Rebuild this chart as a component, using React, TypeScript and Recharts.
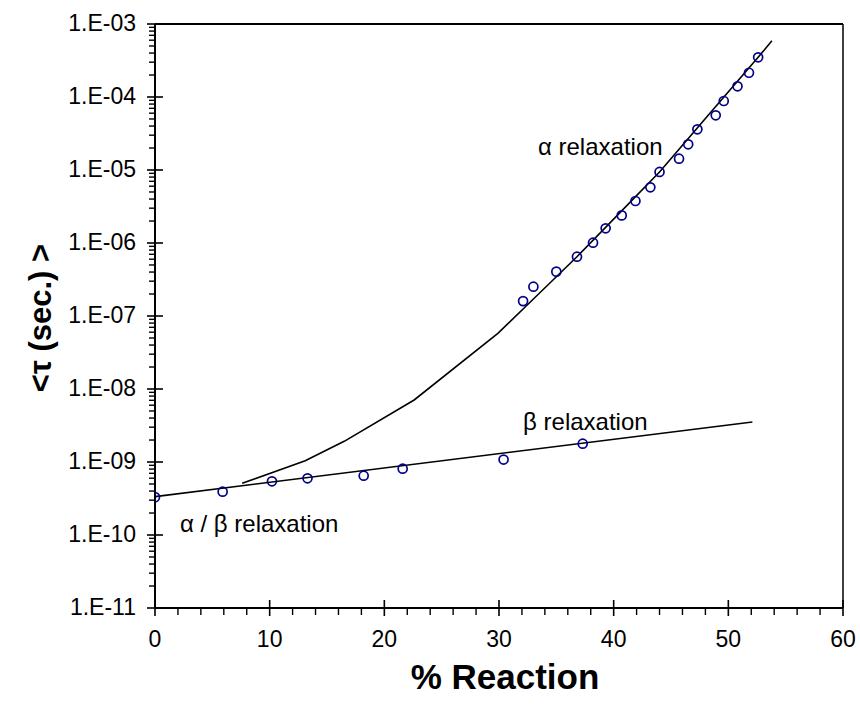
import React from "react";
import {
  ComposedChart,
  XAxis,
  YAxis,
  Line,
  Scatter,
  ReferenceLine,
  ReferenceDot,
} from "recharts";

// ---- data ----
const betaPoints = [
  { x: 0, y: 3.3e-10 },
  { x: 5.9, y: 3.92e-10 },
  { x: 10.2, y: 5.44e-10 },
  { x: 13.3, y: 5.98e-10 },
  { x: 18.2, y: 6.49e-10 },
  { x: 21.6, y: 8.09e-10 },
  { x: 30.4, y: 1.08e-9 },
  { x: 37.3, y: 1.78e-9 },
];

const alphaPoints = [
  { x: 32.1, y: 1.6e-7 },
  { x: 33.0, y: 2.52e-7 },
  { x: 35.0, y: 4.05e-7 },
  { x: 36.8, y: 6.49e-7 },
  { x: 38.2, y: 1.01e-6 },
  { x: 39.3, y: 1.59e-6 },
  { x: 40.7, y: 2.39e-6 },
  { x: 41.9, y: 3.76e-6 },
  { x: 43.2, y: 5.79e-6 },
  { x: 44.0, y: 9.4e-6 },
  { x: 45.7, y: 1.43e-5 },
  { x: 46.5, y: 2.25e-5 },
  { x: 47.3, y: 3.61e-5 },
  { x: 48.9, y: 5.61e-5 },
  { x: 49.6, y: 8.81e-5 },
  { x: 50.8, y: 1.4e-4 },
  { x: 51.8, y: 2.15e-4 },
  { x: 52.6, y: 3.5e-4 },
];

const alphaFit = [
  { x: 7.6, y: 5.1e-10 },
  { x: 13.1, y: 1.04e-9 },
  { x: 16.5, y: 1.92e-9 },
  { x: 22.6, y: 7.07e-9 },
  { x: 29.9, y: 5.79e-8 },
  { x: 33.0, y: 1.71e-7 },
  { x: 36.8, y: 6.49e-7 },
  { x: 40.4, y: 2.47e-6 },
  { x: 44.0, y: 9.4e-6 },
  { x: 48.3, y: 5.74e-5 },
  { x: 52.6, y: 3.5e-4 },
  { x: 53.8, y: 5.9e-4 },
];

const betaFit = [
  { x: 0, y: 3.35e-10 },
  { x: 52.1, y: 3.53e-9 },
];

const annotations = [
  { x: 33.4, y: 2.08e-5, text: "\u03b1 relaxation" },
  { x: 32.1, y: 3.56e-9, text: "\u03b2 relaxation" },
  { x: 2.18, y: 1.45e-10, text: "\u03b1 / \u03b2 relaxation" },
];

const xTicks = Array.from({ length: 31 }, (_, i) => i * 2);
const decades = [-11, -10, -9, -8, -7, -6, -5, -4, -3];
const yTicks: number[] = [];
decades.forEach((d) => {
  yTicks.push(Math.pow(10, d));
  if (d < -3) for (let m = 2; m <= 9; m++) yTicks.push(m * Math.pow(10, d));
});

const xTitle = "% Reaction";
const yTitle = "<\u03c4 (sec.) >";

const FONT = "'Liberation Sans', Arial, sans-serif";

const fmtDecade = (v: number) => {
  const e = Math.round(Math.log10(v));
  const s = Math.abs(e).toString().padStart(2, "0");
  return `1.E${e < 0 ? "-" : "+"}${s}`;
};

const YTick = (props: any) => {
  const { x, y, payload } = props;
  const v = payload.value;
  const lg = Math.log10(v);
  const major = Math.abs(lg - Math.round(lg)) < 1e-6;
  if (major) {
    return (
      <g>
        <line x1={x - 8} x2={x + 8} y1={y} y2={y} stroke="#000" strokeWidth={1.6} />
        <text
          x={x - 19}
          y={y - 1}
          textAnchor="end"
          dominantBaseline="central"
          fontFamily={FONT}
          fontSize={23}
          fill="#000"
        >
          {fmtDecade(v)}
        </text>
      </g>
    );
  }
  return <line x1={x - 6} x2={x} y1={y} y2={y} stroke="#000" strokeWidth={1.4} />;
};

const XTick = (props: any) => {
  const { x, y, payload } = props;
  const v = payload.value;
  const major = v % 10 === 0;
  if (major) {
    return (
      <g>
        <line x1={x} x2={x} y1={y - 8} y2={y + 8} stroke="#000" strokeWidth={1.6} />
        <text
          x={x}
          y={y + 31}
          textAnchor="middle"
          dominantBaseline="central"
          fontFamily={FONT}
          fontSize={23}
          fill="#000"
        >
          {v}
        </text>
      </g>
    );
  }
  return <line x1={x} x2={x} y1={y} y2={y + 7} stroke="#000" strokeWidth={1.4} />;
};

const Circle = (p: any) => (
  <circle cx={p.cx} cy={p.cy} r={4.5} fill="none" stroke="#00008B" strokeWidth={1.7} />
);

export default function App() {
  return (
    <div style={{ position: "absolute", left: 0, top: 0, width: 860, height: 711, background: "#fff" }}>
      <ComposedChart
        width={860}
        height={711}
        margin={{ top: 24, right: 17, bottom: 0, left: 0 }}
      >
        <XAxis
          type="number"
          dataKey="x"
          domain={[0, 60]}
          ticks={xTicks}
          interval={0}
          tickSize={0}
          tickMargin={0}
          tick={<XTick />}
          tickLine={false}
          axisLine={{ stroke: "#000", strokeWidth: 2 }}
          height={103}
          allowDataOverflow
          label={{
            content: (props: any) => {
              const vb = props.viewBox;
              return (
                <text
                  x={vb.x + vb.width / 2 + 6}
                  y={vb.y + 68}
                  textAnchor="middle"
                  dominantBaseline="central"
                  fontFamily={FONT}
                  fontWeight="bold"
                  fontSize={35}
                  fill="#000"
                >
                  {xTitle}
                </text>
              );
            },
          }}
        />
        <YAxis
          type="number"
          dataKey="y"
          scale="log"
          domain={[1e-11, 1e-3]}
          ticks={yTicks}
          interval={0}
          tickSize={0}
          tickMargin={0}
          tick={<YTick />}
          tickLine={false}
          axisLine={{ stroke: "#000", strokeWidth: 2 }}
          width={155}
          allowDataOverflow
          label={{
            content: (props: any) => {
              const vb = props.viewBox;
              const cx = 40;
              const cy = vb.y + vb.height / 2 + 2;
              return (
                <text
                  x={cx}
                  y={cy}
                  transform={`rotate(-90 ${cx} ${cy})`}
                  textAnchor="middle"
                  dominantBaseline="central"
                  fontFamily={FONT}
                  fontWeight="bold"
                  fontSize={31}
                  fill="#000"
                >
                  {yTitle}
                </text>
              );
            },
          }}
        />
        <ReferenceLine y={1e-3} stroke="#000" strokeWidth={2} />
        <ReferenceLine x={60} stroke="#000" strokeWidth={1.5} />
        <Line
          data={betaFit}
          dataKey="y"
          type="linear"
          dot={false}
          stroke="#000"
          strokeWidth={1.6}
          isAnimationActive={false}
        />
        <Line
          data={alphaFit}
          dataKey="y"
          type="linear"
          dot={false}
          stroke="#000"
          strokeWidth={1.6}
          isAnimationActive={false}
        />
        <Scatter data={betaPoints} dataKey="y" shape={<Circle />} isAnimationActive={false} />
        <Scatter data={alphaPoints} dataKey="y" shape={<Circle />} isAnimationActive={false} />
        {annotations.map((a, i) => (
          <ReferenceDot
            key={i}
            x={a.x}
            y={a.y}
            r={0}
            fill="none"
            stroke="none"
            label={{
              content: (props: any) => {
                const vb = props.viewBox;
                return (
                  <text
                    x={vb.x + (vb.width || 0) / 2}
                    y={vb.y + (vb.height || 0) / 2}
                    textAnchor="start"
                    dominantBaseline="central"
                    fontFamily={FONT}
                    fontSize={24}
                    fill="#000"
                  >
                    {a.text}
                  </text>
                );
              },
            }}
          />
        ))}
      </ComposedChart>
    </div>
  );
}
